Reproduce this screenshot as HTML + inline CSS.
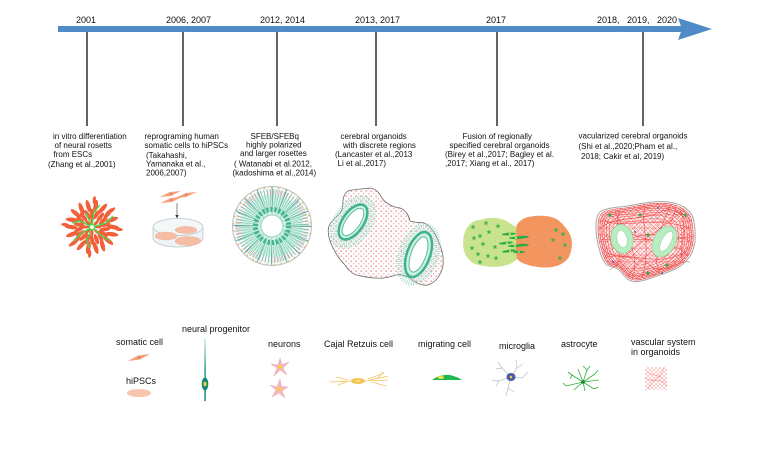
<!DOCTYPE html>
<html><head><meta charset="utf-8"><style>
html,body{margin:0;padding:0;background:#fff;}
svg{display:block;}
text{font-family:"Liberation Sans",Arial,"Noto Sans CJK SC",sans-serif;fill:#111;}
.y{font-size:9px;}
.b{font-size:8px;}
.l{font-size:9px;}
</style></head><body>
<svg width="780" height="470" viewBox="0 0 780 470" xmlns="http://www.w3.org/2000/svg">
<defs>
<pattern id="pk" width="5" height="5" patternUnits="userSpaceOnUse"><circle cx="1.2" cy="1.2" r="0.9" fill="#f3a2a2"/><circle cx="3.7" cy="3.7" r="0.8" fill="#f6b6b6"/><path d="M3.5 0.8 l0.8 0.8" stroke="#a8dccf" stroke-width="0.3"/></pattern>
<pattern id="vr" width="7" height="7" patternUnits="userSpaceOnUse"><path d="M0 7 L7 0 M0 0 L7 7 M0 3.5 L7 3.5" stroke="#f04848" stroke-width="0.35"/></pattern>
<pattern id="vr2" width="4" height="4" patternUnits="userSpaceOnUse"><path d="M0 4 L4 0 M0 0 L4 4" stroke="#f03a3a" stroke-width="0.35"/></pattern>
<pattern id="ht" width="2.5" height="2.5" patternUnits="userSpaceOnUse"><path d="M0 2.5 L2.5 0" stroke="#ef9c80" stroke-width="0.4"/></pattern>
<path id="st" d="M0,-2.6 L0.7,-0.8 L2.5,-0.8 L1.1,0.4 L1.6,2.2 L0,1.1 L-1.6,2.2 L-1.1,0.4 L-2.5,-0.8 L-0.7,-0.8 Z"/>
<path id="vb" d="M596.7 218.3 C598 214 600 211 603.3 210 C610 208 616 207 623.3 206.7 C635 205 646 202 656.7 201.7 C668 201 677 203 683.3 206.7 C689 210 692 214 693.3 218.3 C695 226 695.5 234 695 241.7 C694 248 692 254 688.3 258.3 C685 263 681 266 676.7 268.3 C671 271 666 273 660 275 C652 278 644 281 636.7 281.7 C630 282 626 278 623.3 275 C621 272 619 269 616.7 268.3 C612 267 609 266 606.7 265 C603 261 601 256 600 251.7 C598 245 596.5 238 596 231.7 C595.8 226 596 222 596.7 218.3 Z"/>
<linearGradient id="np" x1="0" y1="0" x2="0" y2="1"><stop offset="0" stop-color="#cdebe6"/><stop offset="0.5" stop-color="#2f9f8e"/><stop offset="1" stop-color="#148a7a"/></linearGradient>
</defs>

<rect x="58" y="26" width="624" height="6" fill="#4f8bc6"/>
<polygon points="678,18 712,29 678,40 682,29" fill="#4f8bc6"/>

<g stroke="#111" stroke-width="1.3">
<line x1="87" y1="32" x2="87" y2="126"/>
<line x1="183" y1="32" x2="183" y2="126"/>
<line x1="277" y1="32" x2="277" y2="126"/>
<line x1="376" y1="32" x2="376" y2="126"/>
<line x1="497" y1="32" x2="497" y2="126"/>
<line x1="643" y1="32" x2="643" y2="126"/>
</g>

<text class="y" x="76" y="23">2001</text>
<text class="y" x="166" y="23">2006, 2007</text>
<text class="y" x="260" y="23">2012, 2014</text>
<text class="y" x="355" y="23">2013, 2017</text>
<text class="y" x="486" y="23">2017</text>
<text class="y" x="597" y="23">2018,</text>
<text class="y" x="627" y="23">2019,</text>
<text class="y" x="657" y="23">2020</text>

<text class="b" x="53" y="139">in vitro differentiation</text>
<text class="b" x="54.5" y="148">of neural rosetts</text>
<text class="b" x="53.5" y="157">from ESCs</text>
<text class="b" x="48" y="167">(Zhang et al.,2001)</text>

<text class="b" x="144.5" y="139">reprograming human</text>
<text class="b" x="144.5" y="148">somatic cells to hiPSCs</text>
<text class="b" x="146" y="158">(Takahashi,</text>
<text class="b" x="146" y="166.5">Yamanaka et al.,</text>
<text class="b" x="146" y="175.5">2006,2007)</text>

<text class="b" x="250.5" y="139">SFEB/SFEBq</text>
<text class="b" x="246" y="147.5">highly polarized</text>
<text class="b" x="240" y="156">and larger rosettes</text>
<text class="b" x="234" y="166.5">( Watanabi et al.2012,</text>
<text class="b" x="232.5" y="175.5">(kadoshima et al.,2014)</text>

<text class="b" x="340.5" y="139">cerebral organoids</text>
<text class="b" x="343" y="148">with discrete regions</text>
<text class="b" x="335" y="157">(Lancaster et al.,2013</text>
<text class="b" x="337.5" y="166">Li et al.,2017)</text>

<text class="b" x="462.5" y="139">Fusion of regionally</text>
<text class="b" x="449.5" y="148">specified cerebral organoids</text>
<text class="b" x="445" y="157">(Birey et al.,2017; Bagley et al.</text>
<text class="b" x="445" y="166">,2017; Xiang et al., 2017)</text>

<text class="b" x="578.5" y="138.5">vacularized cerebral organoids</text>
<text class="b" x="578.5" y="149">(Shi et al.,2020;Pham et al.,</text>
<text class="b" x="581" y="159">2018; Cakir et al, 2019)</text>

<g transform="translate(92,227)" fill="#f2603a">
<g>
<ellipse rx="6.5" ry="2.2" transform="rotate(0) translate(21,0) rotate(10)"/>
<ellipse rx="6.5" ry="2.2" transform="rotate(20) translate(21,0) rotate(-12)"/>
<ellipse rx="6.5" ry="2.2" transform="rotate(40) translate(21,0)"/>
<ellipse rx="6.5" ry="2.2" transform="rotate(60) translate(21,0) rotate(15)"/>
<ellipse rx="6.5" ry="2.2" transform="rotate(80) translate(21,0) rotate(-8)"/>
<ellipse rx="6.5" ry="2.2" transform="rotate(100) translate(21,0)"/>
<ellipse rx="6.5" ry="2.2" transform="rotate(120) translate(21,0) rotate(12)"/>
<ellipse rx="6.5" ry="2.2" transform="rotate(140) translate(21,0) rotate(-10)"/>
<ellipse rx="6.5" ry="2.2" transform="rotate(160) translate(21,0)"/>
<ellipse rx="6.5" ry="2.2" transform="rotate(180) translate(21,0) rotate(8)"/>
<ellipse rx="6.5" ry="2.2" transform="rotate(200) translate(21,0) rotate(-14)"/>
<ellipse rx="6.5" ry="2.2" transform="rotate(220) translate(21,0)"/>
<ellipse rx="6.5" ry="2.2" transform="rotate(240) translate(21,0) rotate(10)"/>
<ellipse rx="6.5" ry="2.2" transform="rotate(260) translate(21,0) rotate(-6)"/>
<ellipse rx="6.5" ry="2.2" transform="rotate(280) translate(21,0)"/>
<ellipse rx="6.5" ry="2.2" transform="rotate(300) translate(21,0) rotate(12)"/>
<ellipse rx="6.5" ry="2.2" transform="rotate(320) translate(21,0) rotate(-10)"/>
<ellipse rx="6.5" ry="2.2" transform="rotate(340) translate(21,0)"/>
</g>
<g>
<ellipse rx="5.5" ry="2" transform="rotate(10) translate(13,0) rotate(-15)"/>
<ellipse rx="5.5" ry="2" transform="rotate(30) translate(13,0)"/>
<ellipse rx="5.5" ry="2" transform="rotate(50) translate(13,0) rotate(15)"/>
<ellipse rx="5.5" ry="2" transform="rotate(70) translate(13,0)"/>
<ellipse rx="5.5" ry="2" transform="rotate(90) translate(13,0) rotate(-12)"/>
<ellipse rx="5.5" ry="2" transform="rotate(110) translate(13,0)"/>
<ellipse rx="5.5" ry="2" transform="rotate(130) translate(13,0) rotate(10)"/>
<ellipse rx="5.5" ry="2" transform="rotate(150) translate(13,0)"/>
<ellipse rx="5.5" ry="2" transform="rotate(170) translate(13,0) rotate(-15)"/>
<ellipse rx="5.5" ry="2" transform="rotate(190) translate(13,0)"/>
<ellipse rx="5.5" ry="2" transform="rotate(210) translate(13,0) rotate(12)"/>
<ellipse rx="5.5" ry="2" transform="rotate(230) translate(13,0)"/>
<ellipse rx="5.5" ry="2" transform="rotate(250) translate(13,0) rotate(-10)"/>
<ellipse rx="5.5" ry="2" transform="rotate(270) translate(13,0)"/>
<ellipse rx="5.5" ry="2" transform="rotate(290) translate(13,0) rotate(14)"/>
<ellipse rx="5.5" ry="2" transform="rotate(310) translate(13,0)"/>
<ellipse rx="5.5" ry="2" transform="rotate(330) translate(13,0) rotate(-12)"/>
<ellipse rx="5.5" ry="2" transform="rotate(350) translate(13,0)"/>
</g>
<g>
<ellipse rx="3.5" ry="1.5" transform="rotate(0) translate(6,0)"/>
<ellipse rx="3.5" ry="1.5" transform="rotate(45) translate(6,0)"/>
<ellipse rx="3.5" ry="1.5" transform="rotate(90) translate(6,0)"/>
<ellipse rx="3.5" ry="1.5" transform="rotate(135) translate(6,0)"/>
<ellipse rx="3.5" ry="1.5" transform="rotate(180) translate(6,0)"/>
<ellipse rx="3.5" ry="1.5" transform="rotate(225) translate(6,0)"/>
<ellipse rx="3.5" ry="1.5" transform="rotate(270) translate(6,0)"/>
<ellipse rx="3.5" ry="1.5" transform="rotate(315) translate(6,0)"/>
<ellipse rx="4" ry="1.6" transform="rotate(5) translate(27,0)"/>
<ellipse rx="4" ry="1.6" transform="rotate(95) translate(27,0)"/>
<ellipse rx="4" ry="1.6" transform="rotate(185) translate(27,0)"/>
<ellipse rx="4" ry="1.6" transform="rotate(275) translate(27,0)"/>
<ellipse rx="4" ry="1.6" transform="rotate(140) translate(26,0)"/>
<ellipse rx="4" ry="1.6" transform="rotate(320) translate(26,0)"/>
</g>
<g stroke="#3ee04e" stroke-width="1.3" fill="none">
<path d="M0 0 L14 -4 L21 -11"/>
<path d="M0 0 L-12 -6 L-20 -4"/>
<path d="M0 0 L-5 13 L-3 21"/>
<path d="M0 0 L10 9 L18 14"/>
<path d="M0 0 L2 -15 L8 -22"/>
<path d="M0 0 L-13 8 L-18 14"/>
<path d="M0 0 L-6 -14"/>
</g>
<circle r="2.5" fill="#fff" stroke="#3ee04e" stroke-width="1.2"/>
</g>

<g fill="#f5a17c">
<polygon points="160,197 170,192 181,191 171,196"/>
<polygon points="175,198 186,193 197,192 186,197"/>
<polygon points="160,203 171,198 182,197 172,202"/>
</g>
<g fill="#c85a3a"><circle cx="171" cy="194" r="0.7"/><circle cx="186" cy="195" r="0.7"/><circle cx="171" cy="200" r="0.7"/></g>
<line x1="177" y1="203" x2="177" y2="216" stroke="#555" stroke-width="0.7"/>
<polygon points="175.3,215 178.7,215 177,218.5" fill="#333"/>
<path d="M153 227 L153 238 A25 9 0 0 0 203 238 L203 227" fill="#eef4f6" stroke="#b6c6cc" stroke-width="0.7"/>
<ellipse cx="178" cy="227" rx="25" ry="8.5" fill="#f3f7f8" stroke="#b6c6cc" stroke-width="0.7"/>
<g fill="#f7c3ab" stroke="#efa68a" stroke-width="0.3">
<ellipse cx="166" cy="236" rx="11" ry="4"/>
<ellipse cx="186" cy="230" rx="11" ry="3.6"/>
<ellipse cx="188" cy="241" rx="13" ry="4.5"/>
</g>
<g fill="url(#ht)"><ellipse cx="166" cy="236" rx="11" ry="4"/><ellipse cx="186" cy="230" rx="11" ry="3.6"/><ellipse cx="188" cy="241" rx="13" ry="4.5"/></g>

<g transform="translate(272,226)">
<circle r="39.5" fill="#fbfbfb" stroke="#c6c6c6" stroke-width="1.2"/>
<circle r="38.5" fill="none" stroke="#d9b64a" stroke-width="1.6" stroke-dasharray="1.2 6"/>
<circle r="33" fill="none" stroke="#f3a4ae" stroke-width="7" stroke-dasharray="1 2.2" opacity=".8"/>
<circle r="23" fill="none" stroke="#d3efe3" stroke-width="16"/>
<circle r="24" fill="none" stroke="#62c5ac" stroke-width="26" stroke-dasharray="0.5 1.6"/>
<circle r="24" fill="none" stroke="#2e8f8a" stroke-width="30" stroke-dasharray="0.4 9"/>
<circle r="16.5" fill="none" stroke="#3bb58a" stroke-width="5" stroke-dasharray="2.2 1.8"/>
<circle r="11" fill="#fff" stroke="#8fd8c0" stroke-width="1"/>
</g>

<path d="M343 200 C344 193 348 190 352 190 L370 188 C377 189 380 194 382 198 C385 203 392 207 400 208 C406 210 409 216 410 221 C415 223 420 222 424 223 C431 225 437 236 441 248 C444 257 444 266 441 272 C438 279 434 283 428 285 C422 286 415 283 410 278 C404 275 400 274 396 275 C390 277 383 279 376 278 C368 278 362 276 356 275 C350 272 347 269 345 265 C340 260 336 254 333 248 C329 240 327 232 329 226 C332 219 338 216 341 212 C343 208 343 204 343 200 Z" fill="url(#pk)" stroke="#6a6a6a" stroke-width="0.8"/>
<g transform="translate(353,222) rotate(-55)">
<ellipse rx="25" ry="15" fill="none" stroke="#9ad9c6" stroke-width="9" stroke-dasharray="0.6 1.3"/>
<ellipse rx="20" ry="10.5" fill="#d2f0e4" stroke="#3db58c" stroke-width="2.5"/>
<ellipse rx="16" ry="7" fill="#fff" stroke="#54bd98" stroke-width="1"/>
</g>
<g transform="translate(418.5,254.5) rotate(20)">
<ellipse rx="16" ry="28" fill="none" stroke="#9ad9c6" stroke-width="9" stroke-dasharray="0.6 1.3"/>
<ellipse rx="11.5" ry="23.5" fill="#d2f0e4" stroke="#3db58c" stroke-width="2.5"/>
<ellipse rx="7.5" ry="18.5" fill="#fff" stroke="#54bd98" stroke-width="1"/>
</g>

<path d="M466.7 228.3 C470 223 475 220 480 220 C486 218 492 217 497 218.3 C503 219 507 221 510 223.3 L518.3 228.3 L518.3 258.3 C514 262 511 264 506.7 265 C500 267 495 267 490 266.7 C483 266 477 265 473.3 263.3 C469 260 466 257 465 253.3 C463 249 463 244 463.3 240 C463.5 235 465 231 466.7 228.3 Z" fill="#c8e28e"/>
<path d="M516.7 225 C520 220 525 217 530 216.7 C537 215.5 544 215.5 550 216.7 C556 218 560 221 563.3 225 C568 230 571 235 571.7 240 C572.5 247 571 253 568.3 258.3 C564 263 559 266 553.3 266.7 C547 268 542 267.5 536.7 266.7 C531 266 527 265 523.3 263.3 C520 262 518 260 516.7 258.3 C516 252 515.8 246 516 241.7 C516 234 516 229 516.7 225 Z" fill="#f3955f"/>
<g fill="#38b24a">
<use href="#st" x="473" y="227"/><use href="#st" x="486" y="223"/><use href="#st" x="474" y="238"/><use href="#st" x="480" y="236"/>
<use href="#st" x="489" y="232"/><use href="#st" x="472" y="248"/><use href="#st" x="483" y="244"/><use href="#st" x="495" y="247"/>
<use href="#st" x="478" y="254"/><use href="#st" x="488" y="256"/><use href="#st" x="480" y="262"/><use href="#st" x="496" y="258"/>
<use href="#st" x="498" y="226"/><use href="#st" x="556" y="230"/><use href="#st" x="563" y="234"/><use href="#st" x="565" y="245"/>
<use href="#st" x="560" y="258"/><use href="#st" x="553" y="240"/>
</g>
<g fill="#2aae48">
<ellipse cx="509" cy="234" rx="7" ry="1.3" transform="rotate(-4 509 234)"/>
<ellipse cx="516" cy="238" rx="7" ry="1.3"/>
<ellipse cx="523" cy="237" rx="6" ry="1.2"/>
<ellipse cx="506" cy="243" rx="7" ry="1.3" transform="rotate(-6 506 243)"/>
<ellipse cx="515" cy="246" rx="7" ry="1.3"/>
<ellipse cx="523" cy="245" rx="6" ry="1.2"/>
<ellipse cx="509" cy="251" rx="7" ry="1.3" transform="rotate(-8 509 251)"/>
<ellipse cx="519" cy="252" rx="6" ry="1.2"/>
</g>
<g fill="#f0e448">
<circle cx="510" cy="234" r="1"/><circle cx="516" cy="238" r="1"/><circle cx="507" cy="243" r="1"/>
<circle cx="515" cy="246" r="1"/><circle cx="510" cy="251" r="1"/><circle cx="519" cy="252" r="0.9"/>
</g>

<!-- 6. vascularized organoid -->
<use href="#vb" fill="#fff" stroke="#a9a9a9" stroke-width="0.9"/>
<use href="#vb" transform="translate(646 242) scale(0.96) translate(-646 -242)" fill="url(#vr2)" stroke="#ee3a3a" stroke-width="0.6"/>
<use href="#vb" transform="translate(646 242) scale(0.96) translate(-646 -242)" fill="url(#vr)" stroke="none"/>
<g fill="none" stroke="#ee3030" stroke-width="0.6">
<use href="#vb" transform="translate(646 242) scale(0.92) translate(-646 -242)"/>
<use href="#vb" transform="translate(646 242) scale(0.88) translate(-646 -242)"/>
<use href="#vb" transform="translate(646 242) scale(0.84) translate(-646 -242)"/>
<use href="#vb" transform="translate(646 242) scale(0.79) translate(-646 -242)"/>
<use href="#vb" transform="translate(646 242) scale(0.73) translate(-646 -242)"/>
<use href="#vb" transform="translate(646 242) scale(0.66) translate(-646 -242)"/>
<use href="#vb" transform="translate(646 242) scale(0.58) translate(-646 -242)"/>
</g>
<g fill="none" stroke="#ec3434" stroke-width="0.5">
<path d="M602 220 C625 230 650 215 690 228 M604 258 C630 250 660 270 688 250 M615 212 C630 240 640 260 632 278 M670 206 C660 230 650 250 660 274 M600 240 C630 236 660 245 694 236 M610 270 C640 240 660 230 684 210"/>
<path d="M600 228 C620 214 640 222 660 212 C672 206 684 214 692 222 M604 250 C618 262 636 252 650 266 C664 276 676 260 690 262 M620 210 C612 230 626 250 616 266 M645 206 C640 226 652 244 642 278 M680 210 C690 232 676 252 684 262 M606 236 C626 246 640 230 660 236 C674 240 684 232 694 246 M612 216 C636 250 664 232 688 256 M628 278 C640 250 660 260 676 208"/>
</g>
<use href="#vb" fill="none" stroke="#a9a9a9" stroke-width="0.9"/>
<g transform="translate(622,239) rotate(-12)">
<ellipse rx="11" ry="14.5" fill="#b8edc2" stroke="#8ccf9c" stroke-width="0.6"/>
<ellipse rx="5" ry="9" fill="#fff" stroke="#8ccf9c" stroke-width="0.5"/>
</g>
<g transform="translate(664.5,241.5) rotate(28)">
<ellipse rx="11" ry="16.5" fill="#b8edc2" stroke="#8ccf9c" stroke-width="0.6"/>
<ellipse cx="1.5" cy="-1" rx="4.5" ry="11" fill="#fff" stroke="#8ccf9c" stroke-width="0.5"/>
</g>
<g fill="#3aa84a">
<use href="#st" x="610" y="215"/><use href="#st" x="640" y="215"/><use href="#st" x="685" y="215"/>
<use href="#st" x="648" y="235"/><use href="#st" x="667" y="265"/><use href="#st" x="648" y="273"/>
</g>
<g fill="#5560b0">
<circle cx="658" cy="208" r="1"/><circle cx="635" cy="232" r="1"/><circle cx="613" cy="262" r="1"/><circle cx="662" cy="273" r="1"/>
</g>

<!-- legend -->
<text class="l" x="116" y="345">somatic cell</text>
<text class="l" x="182" y="332">neural progenitor</text>
<text class="l" x="268" y="347">neurons</text>
<text class="l" x="324" y="347">Cajal Retzuis cell</text>
<text class="l" x="126" y="384">hiPSCs</text>
<text class="l" x="418" y="347">migrating cell</text>
<text class="l" x="499" y="349">microglia</text>
<text class="l" x="561" y="347">astrocyte</text>
<text class="l" x="631" y="345">vascular system</text>
<text class="l" x="631" y="355">in organoids</text>

<polygon points="128,361 138,355.5 150,354 140,359.5" fill="#f4a07c"/>
<circle cx="139" cy="357.5" r="0.9" fill="#d0603e"/>
<ellipse cx="139" cy="393" rx="12" ry="4" fill="#f9cdb8"/>
<ellipse cx="139" cy="393" rx="12" ry="4" fill="url(#ht)"/>
<rect x="204.3" y="338" width="1.5" height="63" fill="url(#np)"/>
<ellipse cx="205" cy="384" rx="3.3" ry="6.5" fill="#0f8a78"/>
<ellipse cx="205" cy="384" rx="1.6" ry="2.4" fill="#f0d030"/>
<g fill="#f5b6c0" stroke="#e59aa6" stroke-width="0.4">
<path transform="translate(280,367)" d="M0,-9 L2,-2.5 L9,-5 L3,1 L7,8 L0,3 L-6,9 L-3,1 L-9,-3 L-2,-2 Z"/>
<path transform="translate(279,389)" d="M1,-10 L2.5,-2.5 L9,-2 L3,2 L6,9 L0,4 L-7,8 L-3,1 L-9,-4 L-2,-2 Z"/>
</g>
<circle cx="280" cy="367" r="2" fill="#f2d040"/>
<circle cx="279" cy="389" r="2" fill="#f2d040"/>
<g stroke="#f2c25a" stroke-width="0.8" fill="none">
<path d="M352 381 L330 382 M348 380 L336 377 M346 382 L338 385 M365 381 L388 380 M368 379 L384 373 M370 380 L388 376 M372 382 L386 386 M378 378 L383 372"/>
</g>
<ellipse cx="358" cy="381" rx="7" ry="3" fill="#f6c24f"/>
<ellipse cx="358" cy="381" rx="2.5" ry="1.3" fill="#fbe08a"/>
<path d="M432 380 Q440 374 450 375 Q458 377 462 380 Z" fill="#1fb84e"/>
<ellipse cx="441" cy="377.5" rx="3.2" ry="1.5" fill="#f0e040"/>
<g stroke="#b9bdca" stroke-width="0.7" fill="none">
<path d="M511 377 L502 368 L498 362 M502 368 L496 369 M511 377 L517 368 L516 360 M517 368 L523 364 M511 377 L522 378 L528 372 M511 377 L508 388 L506 396 M508 388 L514 392 M511 377 L499 381 L492 380 M499 381 L496 386"/>
</g>
<ellipse cx="511" cy="377" rx="4.5" ry="4" fill="#4b5aa8"/>
<circle cx="511" cy="377" r="1.3" fill="#f0d040"/>
<g stroke="#2cae3a" stroke-width="0.8" fill="none">
<path d="M583 382 L566 386 M583 382 L572 375 L568 372 M583 382 L578 369 M583 382 L587 370 L590 366 M583 382 L595 374 M583 382 L599 380 M583 382 L594 389 M583 382 L585 391 M583 382 L574 390 M572 375 L570 379 M587 370 L583 366 M595 374 L598 370 M594 389 L598 387 M566 386 L563 383"/>
</g>
<circle cx="583" cy="382" r="1.8" fill="#178a2a"/>
<rect x="645" y="367" width="22" height="23" fill="url(#vr2)" opacity="0.7"/>
<path d="M646 370 C652 378 658 372 666 382 M648 389 C652 378 660 380 664 368 M645 378 C655 384 660 376 667 386" stroke="#f25a5a" stroke-width="0.4" fill="none"/>
</svg>
</body></html>
